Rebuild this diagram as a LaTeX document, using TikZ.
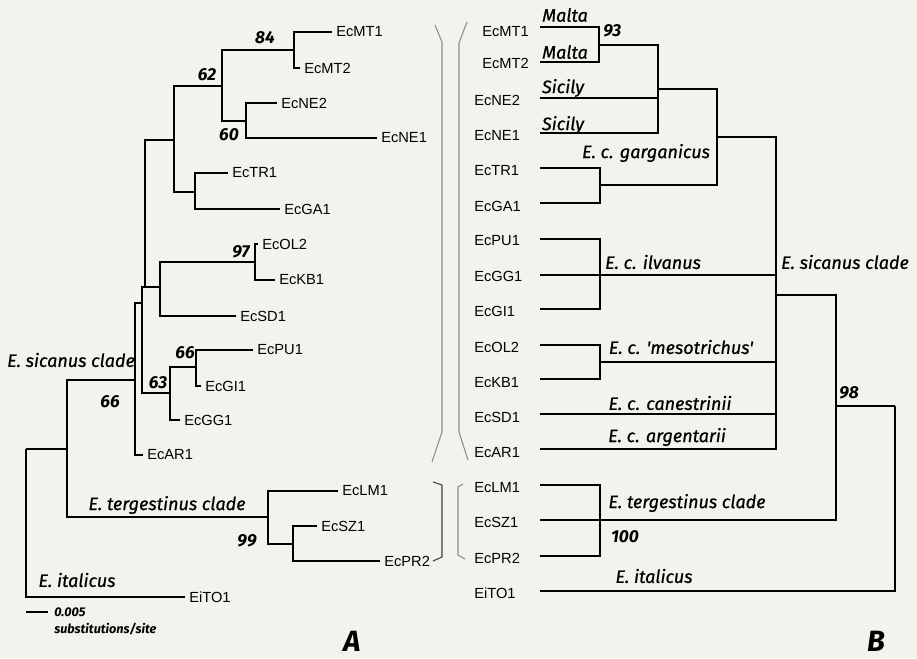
\documentclass[tikz,border=0pt]{standalone}
\usepackage{fontspec}
\setmainfont{Liberation Sans}
\newfontfamily\cladefont{Fira Sans}[FakeBold=0.7]
\newfontfamily\bootfont{Fira Sans}
\usepackage{tikz}

\definecolor{paper}{RGB}{243,243,237}

\begin{document}
\begin{tikzpicture}[x=0.75pt,y=-0.75pt,
  leaf/.style={anchor=west,inner sep=3pt,font=\fontsize{11}{12}\selectfont},
  clade/.style={inner sep=0pt,font=\cladefont\itshape\fontsize{13.5}{16}\selectfont},
  boot/.style={inner sep=0pt,font=\bootfont\bfseries\itshape\fontsize{13}{15}\selectfont},
  panel/.style={anchor=base,inner sep=0pt,font=\bootfont\bfseries\itshape\fontsize{22}{24}\selectfont},
  branch/.style={line width=1.1pt},
  bracket/.style={black!45,line width=0.8pt}]
  % 0. the page
  \fill[paper] (0,0) rectangle (917,658);
  \useasboundingbox (0,0) rectangle (917,658);
  % 1. Tree A: internal nodes (x of the bar, y where the parent joins)
  \coordinate (R)   at (26,449);
  \coordinate (N1)  at (67,449);
  \coordinate (NS)  at (135,380);
  \coordinate (NA)  at (142,303);
  \coordinate (NB)  at (145,287);
  \coordinate (NC)  at (174,140);
  \coordinate (N62) at (222,86);
  \coordinate (N84) at (294,50);
  \coordinate (N60) at (246,121);
  \coordinate (NE)  at (195,192);
  \coordinate (ND)  at (160,287);
  \coordinate (N97) at (255,262);
  \coordinate (N63) at (170,393);
  \coordinate (N66) at (196,367);
  \coordinate (NT)  at (268,517);
  \coordinate (NP)  at (293,544);
  % 2. tips of tree A
  \node[leaf] (MT1) at (332,32)  {EcMT1};
  \node[leaf] (MT2) at (300,68)  {EcMT2};
  \node[leaf] (NE2) at (277,103) {EcNE2};
  \node[leaf] (NE1) at (377,138) {EcNE1};
  \node[leaf] (TR1) at (228,173) {EcTR1};
  \node[leaf] (GA1) at (280,209) {EcGA1};
  \node[leaf] (OL2) at (258,244) {EcOL2};
  \node[leaf] (KB1) at (275,280) {EcKB1};
  \node[leaf] (SD1) at (236,316) {EcSD1};
  \node[leaf] (PU1) at (253,350) {EcPU1};
  \node[leaf] (GI1) at (201,386) {EcGI1};
  \node[leaf] (GG1) at (180,420) {EcGG1};
  \node[leaf] (AR1) at (143,455) {EcAR1};
  \node[leaf] (LM1) at (338,491) {EcLM1};
  \node[leaf] (SZ1) at (317,526) {EcSZ1};
  \node[leaf] (PR2) at (380,561) {EcPR2};
  \node[leaf] (TO1) at (185,597) {EiTO1};
  % 3. branches of tree A
  \draw[branch] (R) |- (N1);
  \draw[branch] (R) |- (TO1.west);
  \draw[branch] (N1) |- (NS);
  \draw[branch] (N1) |- (NT);
  \draw[branch] (NS) |- (NA);
  \draw[branch] (NS) |- (AR1.west);
  \draw[branch] (NA) |- (NB);
  \draw[branch] (NA) |- (N63);
  \draw[branch] (NB) |- (NC);
  \draw[branch] (NB) |- (ND);
  \draw[branch] (NC) |- (N62);
  \draw[branch] (NC) |- (NE);
  \draw[branch] (N62) |- (N84);
  \draw[branch] (N62) |- (N60);
  \draw[branch] (N84) |- (MT1.west);
  \draw[branch] (N84) |- (MT2.west);
  \draw[branch] (N60) |- (NE2.west);
  \draw[branch] (N60) |- (NE1.west);
  \draw[branch] (NE) |- (TR1.west);
  \draw[branch] (NE) |- (GA1.west);
  \draw[branch] (ND) |- (N97);
  \draw[branch] (ND) |- (SD1.west);
  \draw[branch] (N97) |- (OL2.west);
  \draw[branch] (N97) |- (KB1.west);
  \draw[branch] (N63) |- (N66);
  \draw[branch] (N63) |- (GG1.west);
  \draw[branch] (N66) |- (PU1.west);
  \draw[branch] (N66) |- (GI1.west);
  \draw[branch] (NT) |- (LM1.west);
  \draw[branch] (NT) |- (NP);
  \draw[branch] (NP) |- (SZ1.west);
  \draw[branch] (NP) |- (PR2.west);
  % bootstrap values and clade names of tree A
  \node[boot] (b84) at (265,38)  {84};
  \node[boot] (b62) at (207,75)  {62};
  \node[boot] (b60) at (229,135) {60};
  \node[boot] (b97) at (241,252) {97};
  \node[boot] (b66) at (185,353) {66};
  \node[boot] (b63) at (158,383) {63};
  \node[boot] (bS)  at (110,402) {66};
  \node[boot] (b99) at (247,541) {99};
  \node[clade] (cS) at (71,360)  {E. sicanus clade};
  \node[clade] (cT) at (167,505) {E. tergestinus clade};
  \node[clade] (cI) at (77,580)  {E. italicus};
  % scale bar
  \coordinate (s0) at (26,612);
  \coordinate (s1) at (48,612);
  \draw[line width=0.9pt] (s0) -- (s1);
  \node[boot,anchor=west,font=\bootfont\bfseries\itshape\fontsize{9.5}{11}\selectfont]
    (sc1) at (54,612) {0.005};
  \node[boot,anchor=west,font=\bootfont\bfseries\itshape\fontsize{9.5}{11}\selectfont]
    (sc2) at (54,629) {substitutions/site};
  \node[panel] (pA) at (352,651) {A};
  % 4. the two brackets between the trees
  \draw[bracket] (435,25) -- (442,42) -- (442,432) -- (432,462);
  \draw[bracket] (467,22) -- (459,43) -- (459,432) -- (468,460);
  \draw[bracket,black!75] (433,482) -- (442,485) -- (442,557) -- (433,561);
  \draw[bracket] (463,484) -- (458,487) -- (458,555) -- (465,559);
  % 5. Tree B: tips (label and start of the line)
  \node[leaf] (bMT1) at (478,32)  {EcMT1};
  \node[leaf] (bMT2) at (478,63)  {EcMT2};
  \node[leaf] (bNE2) at (470,100) {EcNE2};
  \node[leaf] (bNE1) at (470,136) {EcNE1};
  \node[leaf] (bTR1) at (470,171) {EcTR1};
  \node[leaf] (bGA1) at (470,206) {EcGA1};
  \node[leaf] (bPU1) at (470,241) {EcPU1};
  \node[leaf] (bGG1) at (470,276) {EcGG1};
  \node[leaf] (bGI1) at (470,311) {EcGI1};
  \node[leaf] (bOL2) at (470,347) {EcOL2};
  \node[leaf] (bKB1) at (470,383) {EcKB1};
  \node[leaf] (bSD1) at (470,417) {EcSD1};
  \node[leaf] (bAR1) at (470,453) {EcAR1};
  \node[leaf] (bLM1) at (470,488) {EcLM1};
  \node[leaf] (bSZ1) at (470,522) {EcSZ1};
  \node[leaf] (bPR2) at (470,558) {EcPR2};
  \node[leaf] (bTO1) at (470,593) {EiTO1};
  \coordinate (eMT1) at (540,27);
  \coordinate (eMT2) at (540,62);
  \coordinate (eNE2) at (540,98);
  \coordinate (eNE1) at (540,133);
  \coordinate (eTR1) at (540,168);
  \coordinate (eGA1) at (540,203);
  \coordinate (ePU1) at (540,239);
  \coordinate (eGG1) at (540,275);
  \coordinate (eGI1) at (540,309);
  \coordinate (eOL2) at (540,345);
  \coordinate (eKB1) at (540,379);
  \coordinate (eSD1) at (540,414);
  \coordinate (eAR1) at (540,449);
  \coordinate (eLM1) at (540,485);
  \coordinate (eSZ1) at (540,520);
  \coordinate (ePR2) at (540,556);
  \coordinate (eTO1) at (540,591);
  % internal nodes of tree B
  \coordinate (M93)  at (599,45);
  \coordinate (MSi)  at (658,89);
  \coordinate (MTG)  at (600,185);
  \coordinate (MG)   at (717,137);
  \coordinate (MI)   at (600,275);
  \coordinate (MM)   at (600,362);
  \coordinate (MSic) at (776,295);
  \coordinate (MT)   at (600,520);
  \coordinate (M98)  at (836,406);
  \coordinate (MR)   at (895,406);
  % branches of tree B
  \draw[branch] (M93) |- (eMT1);
  \draw[branch] (M93) |- (eMT2);
  \draw[branch] (MSi) |- (M93);
  \draw[branch] (MSi) |- (eNE2);
  \draw[branch] (MSi) |- (eNE1);
  \draw[branch] (MTG) |- (eTR1);
  \draw[branch] (MTG) |- (eGA1);
  \draw[branch] (MG) |- (MSi);
  \draw[branch] (MG) |- (MTG);
  \draw[branch] (MI) |- (ePU1);
  \draw[branch] (MI) |- (eGG1);
  \draw[branch] (MI) |- (eGI1);
  \draw[branch] (MM) |- (eOL2);
  \draw[branch] (MM) |- (eKB1);
  \draw[branch] (MSic) |- (MG);
  \draw[branch] (MSic) |- (MI);
  \draw[branch] (MSic) |- (MM);
  \draw[branch] (MSic) |- (eSD1);
  \draw[branch] (MSic) |- (eAR1);
  \draw[branch] (MT) |- (eLM1);
  \draw[branch] (MT) |- (eSZ1);
  \draw[branch] (MT) |- (ePR2);
  \draw[branch] (M98) |- (MSic);
  \draw[branch] (M98) |- (MT);
  \draw[branch] (MR) |- (M98);
  \draw[branch] (MR) |- (eTO1);
  % labels of tree B
  \node[clade] (lM1) at (565,15)  {Malta};
  \node[clade] (lM2) at (565,52)  {Malta};
  \node[clade] (lS1) at (563,88)  {Sicily};
  \node[clade] (lS2) at (563,125) {Sicily};
  \node[boot,anchor=west] (b93) at (603,31) {93};
  \node[clade] (lGa) at (646,153) {E. c. garganicus};
  \node[clade] (lIl) at (653,262) {E. c. ilvanus};
  \node[clade] (lMe) at (681,347) {E. c. 'mesotrichus'};
  \node[clade] (lCa) at (670,403) {E. c. canestrinii};
  \node[clade] (lAr) at (667,437) {E. c. argentarii};
  \node[clade] (lSic) at (845,262) {E. sicanus clade};
  \node[boot,anchor=west] (b98) at (839,393) {98};
  \node[clade] (lTe) at (687,503) {E. tergestinus clade};
  \node[boot] (b100) at (625,537) {100};
  \node[clade] (lIt) at (654,576) {E. italicus};
  \node[panel] (pB) at (876,651) {B};
\end{tikzpicture}
\end{document}
